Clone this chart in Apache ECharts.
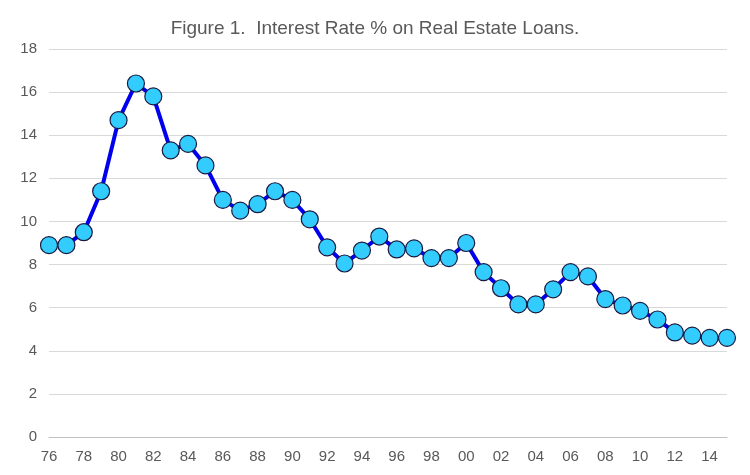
<!DOCTYPE html>
<html><head><meta charset="utf-8">
<script src="https://cdn.jsdelivr.net/npm/echarts@6/dist/echarts.min.js"></script>
<style>html,body{margin:0;padding:0;background:#fff}#c{width:750px;height:475px}</style>
</head><body><div id="c"></div>
<script>
const years = ['76','77','78','79','80','81','82','83','84','85','86','87','88','89','90','91','92','93','94','95','96','97','98','99','00','01','02','03','04','05','06','07','08','09','10','11','12','13','14','15'];
const rates = [8.9,8.9,9.5,11.4,14.7,16.4,15.8,13.3,13.6,12.6,11.0,10.5,10.8,11.4,11.0,10.1,8.8,8.05,8.65,9.3,8.7,8.75,8.3,8.3,9.0,7.65,6.9,6.15,6.15,6.85,7.65,7.45,6.4,6.1,5.85,5.45,4.85,4.7,4.6,4.6];
const chart = echarts.init(document.getElementById('c'));
chart.setOption({
  animation:false,
  title:{text:'Figure 1.  Interest Rate % on Real Estate Loans.',left:'center',top:14,textStyle:{fontFamily:'Liberation Sans',fontSize:19,fontWeight:'normal',color:'#595959'}},
  grid:{left:49,right:23,top:49,bottom:38},
  xAxis:{type:'category',data:years,boundaryGap:false,
    axisLine:{lineStyle:{color:'#bfbfbf'}},axisTick:{show:false},
    axisLabel:{interval:1,color:'#595959',fontSize:15,fontFamily:'Liberation Sans',margin:12}},
  yAxis:{type:'value',min:0,max:18,interval:2,
    axisLine:{show:false},axisTick:{show:false},
    splitLine:{lineStyle:{color:'#d9d9d9'}},
    axisLabel:{color:'#595959',fontSize:15,fontFamily:'Liberation Sans',margin:12}},
  series:[{type:'line',data:rates,symbol:'circle',symbolSize:17,showAllSymbol:true,
    lineStyle:{color:'#0000ee',width:4},
    itemStyle:{color:'#33ccff',borderColor:'#1a1a40',borderWidth:1.2}}]
});
</script></body></html>
